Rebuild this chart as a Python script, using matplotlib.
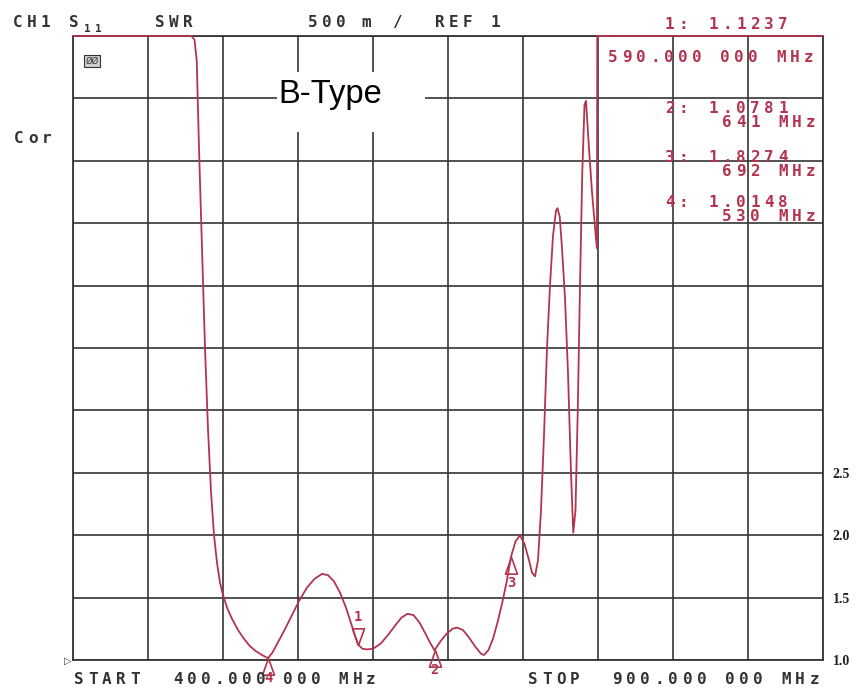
import numpy as np
import matplotlib
matplotlib.use('Agg')
import matplotlib.pyplot as plt
from matplotlib.patches import Rectangle
from matplotlib.path import Path

# SWR sweep of S11, 400-900 MHz (values above 6 sit on the top edge)
freq = [400, 479, 481, 482.5, 484, 486, 488, 490, 492, 494, 496, 498, 500,
        503, 506, 510, 514, 518, 522, 526, 530,
        533, 537, 541, 546, 551, 556, 561, 566, 570, 574, 578, 582, 586,
        590, 593, 596, 600, 605, 610, 615, 619, 623, 627, 631, 635, 638,
        641, 645, 649, 653, 656, 660, 664, 668, 672, 674, 677, 680, 683,
        686, 689, 692, 695, 698, 701, 704, 706, 708, 710, 712, 714, 716,
        718, 720, 722, 723, 724.5, 726, 728, 730, 732, 733.5, 735, 736.5,
        738, 739.5, 741, 742, 744, 746, 748.7, 749.3, 749.5, 900]
swr = [6.0, 6.0, 5.97, 5.8, 5.1, 4.3, 3.5, 2.85, 2.35, 2.0, 1.78, 1.62, 1.52,
       1.41, 1.33, 1.24, 1.17, 1.11, 1.07, 1.04, 1.0148,
       1.06, 1.15, 1.24, 1.36, 1.48, 1.58, 1.65, 1.69, 1.68, 1.63, 1.54,
       1.42, 1.27, 1.1237, 1.09, 1.085, 1.09, 1.13, 1.2, 1.28, 1.34, 1.37,
       1.36, 1.30, 1.21, 1.14, 1.0781, 1.15, 1.21, 1.25, 1.26, 1.24, 1.18,
       1.11, 1.05, 1.04, 1.08, 1.17, 1.30, 1.45, 1.62, 1.8274, 1.95, 2.0,
       1.93, 1.80, 1.70, 1.67, 1.80, 2.2, 2.8, 3.5, 4.0, 4.4, 4.6, 4.62,
       4.55, 4.3, 3.9, 3.3, 2.5, 2.02, 2.2, 3.0, 4.0, 4.9, 5.45, 5.48, 5.1,
       4.75, 4.37, 4.30, 6.0, 6.0]

# markers: number, frequency, value
mk_num = [1, 2, 3, 4]
mk_freq = [590, 641, 692, 530]
mk_val = [1.1237, 1.0781, 1.8274, 1.0148]
mk_freq_txt = ['590.000 000 MHz', '641 MHz', '692 MHz', '530 MHz']

ytick_vals = np.arange(1.0, 6.01, 0.5)
ytick_labels = ['1.0', '1.5', '2.0', '2.5'] + [''] * 7

W, H = 857, 688
RED = '#b3344f'
INK = '#333333'
GRID = '#353535'

fig = plt.figure(figsize=(W / 100, H / 100), dpi=100)
fig.patch.set_facecolor('white')
ax = fig.add_axes([73 / W, 28 / H, 750 / W, 624 / H])


def fx(x):
    return x / W


def fy(y):
    return 1 - y / H


def spaced(x, y, s, color, size=11.5, pitch=14):
    # plotter style text: fixed pitch, y is baseline in pixels
    for i, ch in enumerate(s):
        if ch != ' ':
            fig.text(fx(x + i * pitch), fy(y), ch, ha='left', va='baseline',
                     color=color, fontsize=size, family='DejaVu Sans Mono',
                     fontweight='bold', zorder=5)


ax.set_xlim(400, 900)
ax.set_ylim(1, 6)
ax.set_xticks(np.arange(400, 901, 50))
ax.set_xticklabels([])
ax.set_yticks(ytick_vals)
ax.set_yticklabels(ytick_labels, fontsize=10, fontweight='bold',
                   family='Liberation Serif', color='#222222')
ax.yaxis.tick_right()
ax.tick_params(axis='both', length=0)
ax.tick_params(axis='y', pad=7)
ax.grid(True, color=GRID, lw=1.2)
for sp in ax.spines.values():
    sp.set_color(GRID)
    sp.set_linewidth(1.3)

ax.plot(freq, swr, color=RED, lw=1.3, clip_on=False, zorder=4)

# marker triangles, tip sitting on the trace
up_tri = Path([(0, 0), (-0.36, -1), (0.36, -1), (0, 0)])
down_tri = Path([(0, 0), (-0.36, 1), (0.36, 1), (0, 0)])
for n, f, v in zip(mk_num, mk_freq, mk_val):
    if n == 1:
        ax.plot(f, v, marker=down_tri, ms=24, mfc='none', mec=RED, mew=1.2,
                clip_on=False, zorder=5)
        off = 20
    elif n == 3:
        ax.plot(f, v, marker=up_tri, ms=24, mfc='none', mec=RED, mew=1.2,
                clip_on=False, zorder=5)
        off = -19
    else:
        ax.plot(f, v, marker=up_tri, ms=24, mfc='none', mec=RED, mew=1.2,
                clip_on=False, zorder=5)
        off = -14
    ax.annotate(str(n), (f, v), xytext=(0, off), textcoords='offset points',
                ha='center', va='center', color=RED, fontsize=10,
                family='DejaVu Sans Mono', fontweight='bold')

# header line
spaced(13, 27, 'CH1', INK)
spaced(69, 27, 'S', INK)
spaced(84, 32, '11', INK, size=8, pitch=11)
spaced(155, 27, 'SWR', INK)
spaced(308, 27, '500', INK)
spaced(361, 27, 'm', INK)
spaced(392, 27, '/', INK)
spaced(435, 27, 'REF', INK)
spaced(491, 27, '1', INK)

# marker readout
spaced(665, 29, '1:', RED)
spaced(708, 29, '%.4f' % mk_val[0], RED)
spaced(608, 62, mk_freq_txt[0], RED)
rows = [113, 162, 207]
for i, y in enumerate(rows):
    spaced(665, y, '%d:' % mk_num[i + 1], RED)
    spaced(708, y, '%.4f' % mk_val[i + 1], RED)
    spaced(722, y + 14, mk_freq_txt[i + 1], RED)

# start / stop
spaced(74, 684, 'START', INK)
spaced(173, 684, '400.000 000 MHz', INK, pitch=13.8)
spaced(528, 684, 'STOP', INK)
spaced(612, 684, '900.000 000 MHz', INK, pitch=14.1)

spaced(14, 143, 'Cor', INK)
fig.text(fx(92), fy(61), '\u00d8\u00d8', ha='center', va='center',
         fontsize=6, color=INK, family='DejaVu Sans',
         bbox=dict(boxstyle='square,pad=0.15', fc='#cfcfcf', ec=INK, lw=0.8))
fig.text(fx(64), fy(661), '\u25b7', ha='left', va='center', fontsize=7,
         color=INK, family='DejaVu Sans')

# label box over the grid
fig.patches.append(Rectangle((fx(277), fy(132)), fx(148), 60 / H,
                             transform=fig.transFigure, fc='white',
                             ec='none', zorder=2))
fig.text(fx(278), fy(103), 'B-Type', ha='left', va='baseline', fontsize=23.5,
         family='Liberation Sans', color='black', zorder=3)

fig.savefig('out.png', dpi=100)
